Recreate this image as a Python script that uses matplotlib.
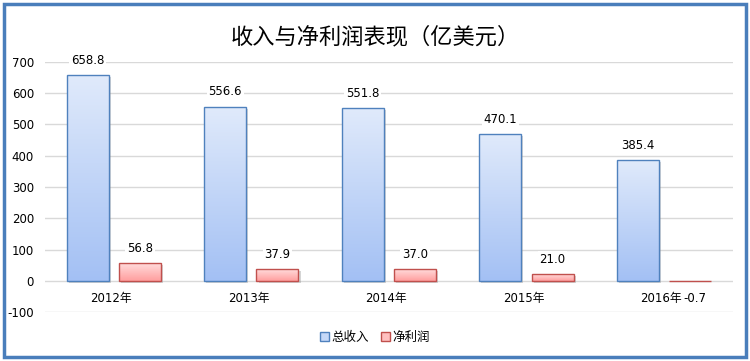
import numpy as np
import matplotlib
matplotlib.use("Agg")
import matplotlib.pyplot as plt
from matplotlib.patches import Rectangle, Patch
from matplotlib.colors import LinearSegmentedColormap

plt.rcParams['font.family'] = ['DejaVu Sans', 'Noto Sans CJK SC']

categories = ['2012年', '2013年', '2014年', '2015年', '2016年']
revenue = [658.8, 556.6, 551.8, 470.1, 385.4]
net_profit = [56.8, 37.9, 37.0, 21.0, -0.7]
series_names = ['总收入', '净利润']
title = '收入与净利润表现（亿美元）'
yticks = [-100, 0, 100, 200, 300, 400, 500, 600, 700]

fig = plt.figure(figsize=(7.5, 3.61), dpi=100)
ax = fig.add_axes([0.06, 0.1357, 0.917, 0.6926])

x = np.arange(len(categories))
w = 0.305
off = 0.19

blue_cmap = LinearSegmentedColormap.from_list('b', ['#a3c0f4', '#e0eafb'])
red_cmap = LinearSegmentedColormap.from_list('r', ['#ff9e9e', '#ffdcdc'])

b1 = ax.bar(x - off, revenue, w, facecolor='none', edgecolor='#4f81bd', linewidth=1.0, zorder=3,
            label=series_names[0])
b2 = ax.bar(x + off, net_profit, w, facecolor='none', edgecolor='#c0504d', linewidth=1.0, zorder=3,
            label=series_names[1])

grad = np.linspace(0, 1, 256).reshape(-1, 1)
for bars, cmap in ((b1, blue_cmap), (b2, red_cmap)):
    for p in bars:
        x0, y0 = p.get_x(), p.get_y()
        x1, y1 = x0 + p.get_width(), y0 + p.get_height()
        sh = Rectangle((x0, min(y0, y1)), p.get_width(), abs(y1 - y0), facecolor='#888888',
                       edgecolor='none', alpha=0.35, zorder=1.5,
                       transform=ax.transData + matplotlib.transforms.ScaledTranslation(1.5/72, -1.5/72, fig.dpi_scale_trans))
        ax.add_patch(sh)
        im = ax.imshow(grad, cmap=cmap, aspect='auto', origin='lower',
                       extent=[x0, x1, min(y0, y1), max(y0, y1)], zorder=2)
        im.set_clip_path(p)

ax.set_xlim(-0.5, len(categories) - 0.5)
ax.set_ylim(-100, 700)
ax.set_yticks(yticks)
ax.set_yticklabels([str(v) for v in yticks], fontsize=8.5)
ax.set_xticks(x)
ax.set_xticklabels(['' for _ in categories])
for xi, c in zip(x, categories):
    ax.annotate(c, (xi, 0), xytext=(-2, -8), textcoords='offset points', ha='center', va='top',
                fontsize=8.5, family=['DejaVu Sans', 'Noto Sans CJK SC'])
ax.tick_params(axis='both', length=0, pad=8)
ax.grid(axis='y', color='#d9d9d9', linewidth=1.0, zorder=0)
ax.set_axisbelow(True)
for s in ax.spines.values():
    s.set_visible(False)

for xi, v in zip(x, revenue):
    ax.annotate(f'{v:.1f}', (xi - off, v), xytext=(0, 6), textcoords='offset points',
                ha='center', va='bottom', fontsize=8.5, zorder=5,
                bbox=dict(boxstyle='square,pad=0.15', facecolor='white', edgecolor='none'))
for xi, v in zip(x, net_profit):
    if v >= 0:
        ax.annotate(f'{v:.1f}', (xi + off, v), xytext=(0, 6), textcoords='offset points',
                    ha='center', va='bottom', fontsize=8.5, zorder=5,
                    bbox=dict(boxstyle='square,pad=0.15', facecolor='white', edgecolor='none'))
    else:
        ax.annotate(f'{v:.1f}', (xi + off, v), xytext=(-5, -8), textcoords='offset points',
                    ha='left', va='top', fontsize=8.5, zorder=5)

fig.suptitle(title, y=0.93, fontsize=16, family=['Noto Sans CJK SC', 'DejaVu Sans'])

handles = [Patch(facecolor='#c5d8f8', edgecolor='#4f81bd', label=series_names[0]),
           Patch(facecolor='#ffc0c0', edgecolor='#c0504d', label=series_names[1])]
fig.legend(handles=handles, loc='center', bbox_to_anchor=(0.5, 0.065), ncol=2, frameon=False,
           prop={'family': ['Noto Sans CJK SC', 'DejaVu Sans'], 'size': 9},
           handlelength=0.7, handleheight=0.7, handletextpad=0.2, columnspacing=1.0)

fig.patches.append(Rectangle((0.005, 0.01), 0.99, 0.98, transform=fig.transFigure, fill=False,
                             edgecolor='#4a7ebb', linewidth=2.5))

fig.savefig('out.png', dpi=100)
